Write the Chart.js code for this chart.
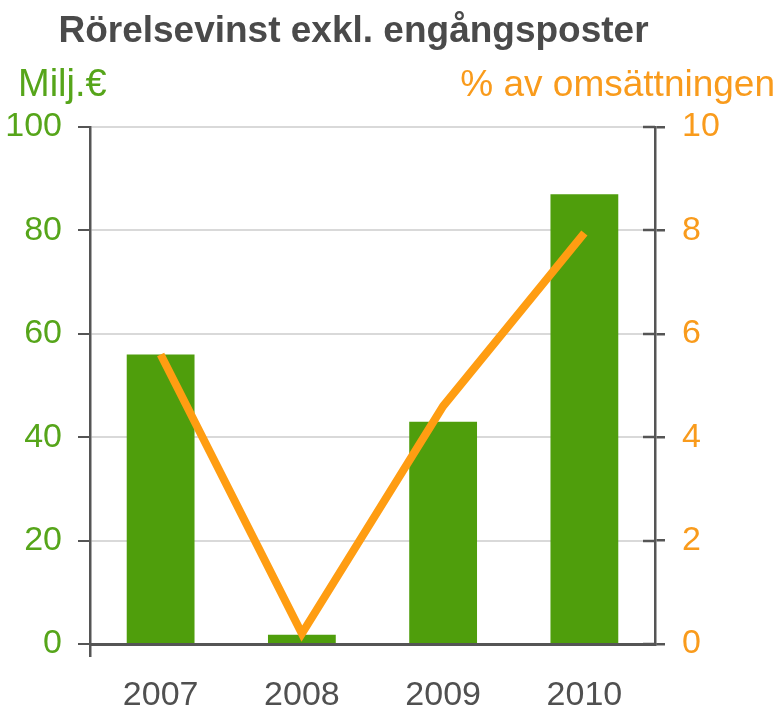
<!DOCTYPE html>
<html>
<head>
<meta charset="utf-8">
<script src="https://cdn.jsdelivr.net/npm/chart.js@4.4.0/dist/chart.umd.min.js"></script>
<style>
  body { margin: 0; background: #fff; font-family: "Liberation Sans", Arial, sans-serif; }
  #wrap { position: relative; width: 780px; height: 711px; }
  #grafica { position: absolute; left: 0; top: 0; }
  .txt { position: absolute; white-space: nowrap; line-height: 1; }
  #titel { left: 0; width: 707px; top: 11px; text-align: center; font-weight: bold; font-size: 37px; color: #4a4a4a; }
  #vanster { left: 18px; top: 64px; font-size: 38px; color: #56a51a; }
  #hoger { right: 5px; top: 65px; font-size: 37px; color: #f99b1c; }
</style>
</head>
<body>
<div id="wrap">
  <canvas id="grafica" width="780" height="711"></canvas>
  <div class="txt" id="titel">Rörelsevinst exkl. engångsposter</div>
  <div class="txt" id="vanster">Milj.€</div>
  <div class="txt" id="hoger">% av omsättningen</div>
</div>
<script>
// Data
const ar = ['2007', '2008', '2009', '2010'];
const rorelsevinst = [56, 1.8, 43, 87];      // Milj.€
const andelOmsattning = [5.6, 0.2, 4.6, 7.95];  // % av omsättningen
const vansterTicks = [0, 20, 40, 60, 80, 100];
const hogerTicks = [0, 2, 4, 6, 8, 10];

const axelFarg = '#555555';

// ritar den inre delen av högeraxelns tickmarkeringar
const inreTicks = {
    id: 'inreTicks',
    afterDraw(chart) {
        const s = chart.scales.y1;
        const ctx = chart.ctx;
        ctx.save();
        ctx.strokeStyle = axelFarg;
        ctx.lineWidth = 2.5;
        s.ticks.forEach(t => {
            const y = Math.round(s.getPixelForValue(t.value));
            ctx.beginPath();
            ctx.moveTo(s.left - 12, y);
            ctx.lineTo(s.left, y);
            ctx.stroke();
        });
        ctx.restore();
    }
};

const chart = new Chart(document.getElementById('grafica'), {
    type: 'bar',
    data: {
        labels: ar,
        datasets: [{
            type: 'line',
            data: andelOmsattning,
            yAxisID: 'y1',
            borderColor: '#ff9d12',
            borderWidth: 8,
            borderCapStyle: 'butt',
            borderJoinStyle: 'miter',
            pointRadius: 0,
            tension: 0,
            order: 0
        }, {
            type: 'bar',
            data: rorelsevinst,
            yAxisID: 'y',
            backgroundColor: '#4f9e0c',
            barPercentage: 1,
            categoryPercentage: 0.48,
            order: 1
        }]
    },
    options: {
        responsive: false,
        animation: false,
        layout: { padding: { top: 127, left: 0, right: 0, bottom: 0 } },
        plugins: {
            legend: { display: false },
            tooltip: { enabled: false }
        },
        scales: {
            x: {
                offset: true,
                afterFit: s => { s.height = 67; },
                grid: {
                    drawOnChartArea: false,
                    tickLength: 13,
                    lineWidth: 2.5,
                    color: ctx => (ctx.index === 0 || ctx.index === ar.length) ? axelFarg : 'rgba(0,0,0,0)',
                    tickColor: ctx => (ctx.index === 0 || ctx.index === ar.length) ? axelFarg : 'rgba(0,0,0,0)'
                },
                border: { display: true, color: axelFarg, width: 3 },
                ticks: {
                    color: '#505050',
                    padding: 18,
                    font: { family: 'Liberation Sans', size: 34 }
                }
            },
            y: {
                position: 'left',
                min: 0,
                max: 100,
                afterFit: s => { s.width = 90; },
                afterBuildTicks: s => { s.ticks = vansterTicks.map(v => ({ value: v })); },
                grid: {
                    color: '#d9d9d9',
                    lineWidth: 2,
                    tickLength: 12,
                    tickColor: axelFarg
                },
                border: { display: true, color: axelFarg, width: 2.5 },
                ticks: {
                    color: '#56a51a',
                    padding: 16,
                    font: { family: 'Liberation Sans', size: 34 }
                }
            },
            y1: {
                position: 'right',
                min: 0,
                max: 10,
                afterFit: s => { s.width = 125; },
                afterBuildTicks: s => { s.ticks = hogerTicks.map(v => ({ value: v })); },
                grid: {
                    drawOnChartArea: false,
                    lineWidth: 2.5,
                    tickLength: 10,
                    tickColor: axelFarg
                },
                border: { display: true, color: axelFarg, width: 2.5 },
                ticks: {
                    color: '#f99b1c',
                    padding: 17,
                    font: { family: 'Liberation Sans', size: 34 }
                }
            }
        }
    },
    plugins: [inreTicks]
});
</script>
</body>
</html>
